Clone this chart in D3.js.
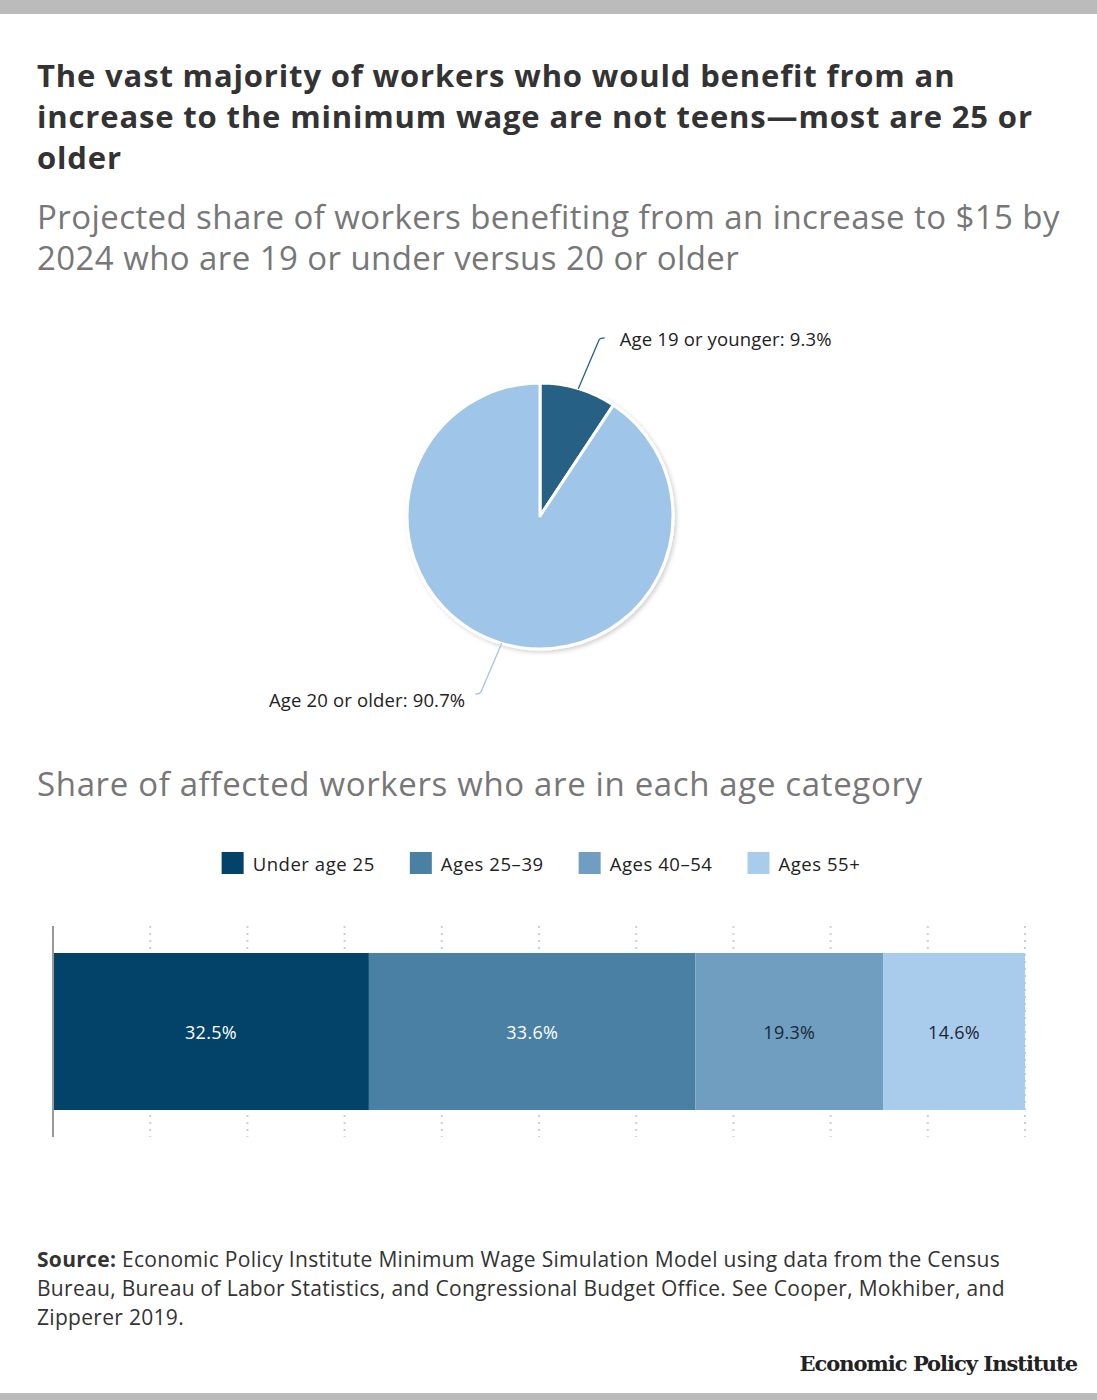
<!DOCTYPE html>
<html>
<head>
<meta charset="utf-8">
<script src="https://cdn.jsdelivr.net/npm/d3@7"></script>
<style>
  body { margin: 0; background: #fff; }
  svg text { font-family: "Open Sans", Lato, sans-serif; }
  svg text.logo { font-family: "DejaVu Serif", "Liberation Serif", serif; }
</style>
</head>
<body>
<svg id="chart"></svg>
<script>
// ---- data ----
const titleLines = [
  "The vast majority of workers who would benefit from an",
  "increase to the minimum wage are not teens\u2014most are 25 or",
  "older"
];
const subtitleLines = [
  "Projected share of workers benefiting from an increase to $15 by",
  "2024 who are 19 or under versus 20 or older"
];
const pieLabels = ["Age 19 or younger", "Age 20 or older"];
const pieValues = [9.3, 90.7];
const barTitle = "Share of affected workers who are in each age category";
const ageGroups = ["Under age 25", "Ages 25\u201339", "Ages 40\u201354", "Ages 55+"];
const ageShares = [32.5, 33.6, 19.3, 14.6];
const gridTicks = [10, 20, 30, 40, 50, 60, 70, 80, 90, 100];
const sourceLines = [
  "Economic Policy Institute Minimum Wage Simulation Model using data from the Census",
  "Bureau, Bureau of Labor Statistics, and Congressional Budget Office. See Cooper, Mokhiber, and",
  "Zipperer 2019."
];

const W = 1097, H = 1400;
const svg = d3.select("#chart").attr("width", W).attr("height", H);

/* frame bars */
svg.append("rect").attr("x", 0).attr("y", 0).attr("width", W).attr("height", 14).attr("fill", "#bbbbbb");
svg.append("rect").attr("x", 0).attr("y", 1393).attr("width", W).attr("height", 7).attr("fill", "#bbbbbb");

/* title */
svg.append("g").selectAll("text").data(titleLines).join("text")
  .attr("x", 37).attr("y", (d, i) => 87 + i * 41)
  .attr("font-size", 31).attr("font-weight", 700).attr("fill", "#333")
  .attr("letter-spacing", 0.85)
  .text(d => d);

svg.append("g").selectAll("text").data(subtitleLines).join("text")
  .attr("x", 37).attr("y", (d, i) => 229 + i * 41)
  .attr("font-size", 33).attr("fill", "#777")
  .attr("letter-spacing", 0.42)
  .text(d => d);

/* ---- pie ---- */
const pieCx = 540, pieCy = 516, pieR = 133;
const pieColors = ["#256084", "#9fc5e8"];

const defs = svg.append("defs");
const f = defs.append("filter").attr("id", "shadow").attr("x", "-20%").attr("y", "-20%").attr("width", "140%").attr("height", "140%");
f.append("feDropShadow").attr("dx", 2).attr("dy", 2).attr("stdDeviation", 2).attr("flood-color", "#000").attr("flood-opacity", 0.18);

const pie = d3.pie().sort(null).value(d => d)(pieValues);
const arc = d3.arc().innerRadius(0).outerRadius(pieR);

const pieG = svg.append("g").attr("transform", "translate(" + pieCx + "," + pieCy + ")");
pieG.append("g").attr("filter", "url(#shadow)")
  .selectAll("path").data(pie).join("path")
  .attr("d", arc)
  .attr("fill", (d, i) => pieColors[i])
  .attr("stroke", "#fff")
  .attr("stroke-width", 3)
  .attr("stroke-linejoin", "round");

/* leader lines + labels */
pie.forEach((d, i) => {
  const a = (d.startAngle + d.endAngle) / 2;
  const sx = Math.sin(a), sy = -Math.cos(a);
  const p0 = [sx * pieR, sy * pieR];
  const p1 = [sx * (pieR + 50) + (sx > 0 ? 6 : -6), sy * (pieR + 50)];
  const dir = sx > 0 ? 1 : -1;
  const p2 = [p1[0] + dir * 6, p1[1] + sy * 3];
  pieG.append("path")
    .attr("d", "M" + p0 + "L" + p1 + "Q" + [p1[0] + dir * 1, p1[1] + sy * 3] + " " + p2)
    .attr("fill", "none")
    .attr("stroke", pieColors[i])
    .attr("stroke-width", 1.3);
  pieG.append("text")
    .attr("x", p2[0] + dir * (dir > 0 ? 15 : 10))
    .attr("y", p2[1] + (sy < 0 ? 8 : 13))
    .attr("text-anchor", dir > 0 ? "start" : "end")
    .attr("font-size", 18.5).attr("fill", "#222")
    .attr("letter-spacing", 0.15)
    .text(pieLabels[i] + ": " + d.data + "%");
});

/* ---- stacked bar ---- */
svg.append("text").attr("x", 37).attr("y", 796)
  .attr("font-size", 33).attr("fill", "#777")
  .attr("letter-spacing", 0.65)
  .text(barTitle);

const barColors = ["#03436a", "#4a80a3", "#6f9ec1", "#a9cbec"];
const labelColors = ["#ffffff", "#ffffff", "#1b2733", "#1b2733"];

/* legend */
const legend = svg.append("g");
let lx = 0;
ageGroups.forEach((g, i) => {
  const item = legend.append("g").attr("transform", "translate(" + lx + ",0)");
  item.append("rect").attr("width", 22).attr("height", 22).attr("y", 852).attr("fill", barColors[i]);
  const t = item.append("text").attr("x", 31).attr("y", 871)
    .attr("font-size", 18.5).attr("fill", "#222").attr("letter-spacing", 0.55).text(g);
  lx += 31 + t.node().getComputedTextLength() + 35;
});
const legendW = lx - 35;
legend.attr("transform", "translate(" + (541 - legendW / 2) + ",0)");

const xScale = d3.scaleLinear().domain([0, 100]).range([53, 1025]);
const yScale = d3.scaleBand().domain(["all"]).range([926, 1137]).padding(0.1467);

/* dotted grid */
svg.append("g").selectAll("line").data(gridTicks).join("line")
  .attr("x1", d => xScale(d)).attr("x2", d => xScale(d))
  .attr("y1", 926).attr("y2", 1137)
  .attr("stroke", "#cfcfcf").attr("stroke-width", 2)
  .attr("stroke-dasharray", "2,5");

const stack = [];
let acc = 0;
ageShares.forEach((v, i) => { stack.push({ v: v, x0: acc, x1: acc + v, i: i }); acc += v; });

const bars = svg.append("g");
bars.selectAll("rect").data(stack).join("rect")
  .attr("x", d => xScale(d.x0))
  .attr("width", d => xScale(d.x1) - xScale(d.x0))
  .attr("y", yScale("all"))
  .attr("height", yScale.bandwidth())
  .attr("fill", d => barColors[d.i]);

bars.selectAll("text").data(stack).join("text")
  .attr("x", d => (xScale(d.x0) + xScale(d.x1)) / 2)
  .attr("y", yScale("all") + yScale.bandwidth() / 2 + 7)
  .attr("text-anchor", "middle")
  .attr("font-size", 18).attr("letter-spacing", 0.3)
  .attr("fill", d => labelColors[d.i])
  .text(d => d.v.toFixed(1) + "%");

/* left axis line */
svg.append("line").attr("x1", xScale(0)).attr("x2", xScale(0))
  .attr("y1", 926).attr("y2", 1137)
  .attr("stroke", "#999").attr("stroke-width", 2);

/* ---- source ---- */
const src = svg.append("g");
sourceLines.forEach((line, i) => {
  const t = src.append("text").attr("x", 37).attr("y", 1267 + i * 29)
    .attr("font-size", 21).attr("fill", "#333").attr("letter-spacing", 0.3);
  if (i === 0) t.append("tspan").attr("font-weight", 700).text("Source: ");
  t.append("tspan").text(line);
});

svg.append("text").attr("class", "logo").attr("x", 1077).attr("y", 1371)
  .attr("text-anchor", "end")
  .attr("font-size", 21).attr("font-weight", 700).attr("fill", "#222")
  .attr("letter-spacing", -1.0)
  .text("Economic Policy Institute");
</script>
</body>
</html>
